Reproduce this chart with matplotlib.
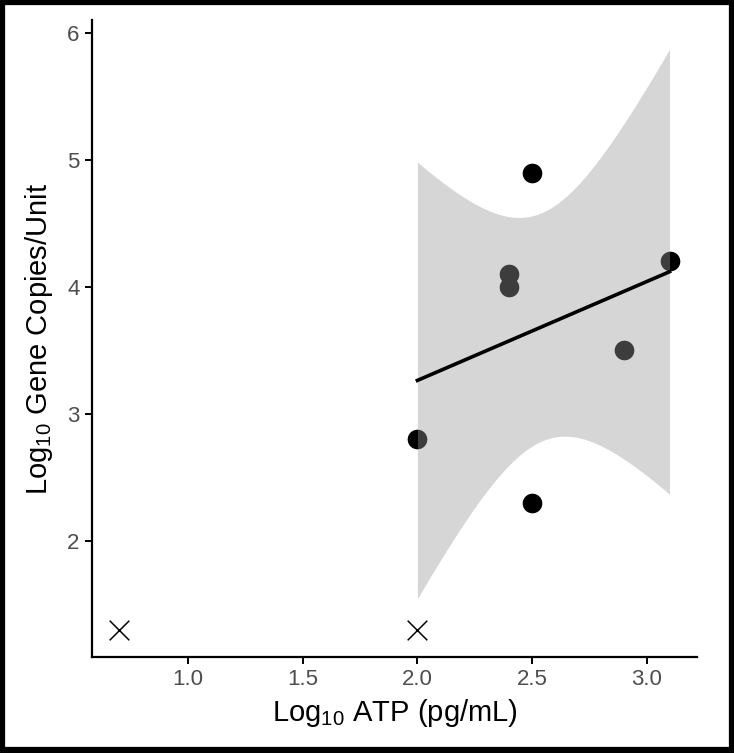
import numpy as np
import matplotlib
matplotlib.use("Agg")
import matplotlib.pyplot as plt
from matplotlib.patches import Rectangle

plt.rcParams['font.family'] = ['Liberation Sans', 'DejaVu Sans']
plt.rcParams['mathtext.default'] = 'regular'

# ---- data ----
atp = [2.0, 2.4, 2.4, 2.5, 2.5, 2.9, 3.1]
gene = [2.8, 4.1, 4.0, 4.9, 2.3, 3.5, 4.2]
nd_atp = [0.7, 2.0]          # below detection (x markers)
nd_gene = [1.3, 1.3]
t_crit = 2.570582            # t(0.975, df=5)

# linear fit + 95% CI (like geom_smooth(method='lm'))
x = np.array(atp)
y = np.array(gene)
n = len(x)
mx, my = x.mean(), y.mean()
sxx = ((x - mx) ** 2).sum()
slope = ((x - mx) * (y - my)).sum() / sxx
icpt = my - slope * mx
resid = y - (icpt + slope * x)
s = np.sqrt((resid ** 2).sum() / (n - 2))

xs = np.linspace(x.min(), x.max(), 80)
fit = icpt + slope * xs
se = s * np.sqrt(1 / n + (xs - mx) ** 2 / sxx)
lo, hi = fit - t_crit * se, fit + t_crit * se

fig = plt.figure(figsize=(7.34, 7.53), dpi=100)
ax = fig.add_axes([0.1253, 0.1275, 0.8243, 0.8459])

ax.scatter(atp, gene, s=200, color='black', zorder=2, linewidths=0)
ax.scatter(nd_atp, nd_gene, marker='x', s=200, color='black', linewidths=1.1, zorder=2)
ax.fill_between(xs, lo, hi, color='#999999', alpha=0.4, linewidth=0, zorder=3)
ax.plot(xs, fit, color='black', lw=2.6, zorder=4)

ax.set_xlim(0.58, 3.22)
ax.set_ylim(1.087, 6.1)
ax.set_xticks([1.0, 1.5, 2.0, 2.5, 3.0])
ax.set_xticklabels(['1.0', '1.5', '2.0', '2.5', '3.0'])
ax.set_yticks([2, 3, 4, 5, 6])

for side in ['top', 'right']:
    ax.spines[side].set_visible(False)
for side in ['left', 'bottom']:
    ax.spines[side].set_linewidth(1.6)
ax.tick_params(length=5, width=1.4, colors='black', labelcolor='#4d4d4d',
               labelsize=16, pad=4)

ax.set_xlabel(r'Log$_{10}$ ATP (pg/mL)', fontsize=21, labelpad=5)
ax.set_ylabel(r'Log$_{10}$ Gene Copies/Unit', fontsize=21, labelpad=9)

# outer frame
fig.patches.append(Rectangle((0.003, 0.004), 0.994, 0.993, transform=fig.transFigure,
                             fill=False, edgecolor='black', linewidth=4.5))

fig.savefig('out.png', dpi=100)
